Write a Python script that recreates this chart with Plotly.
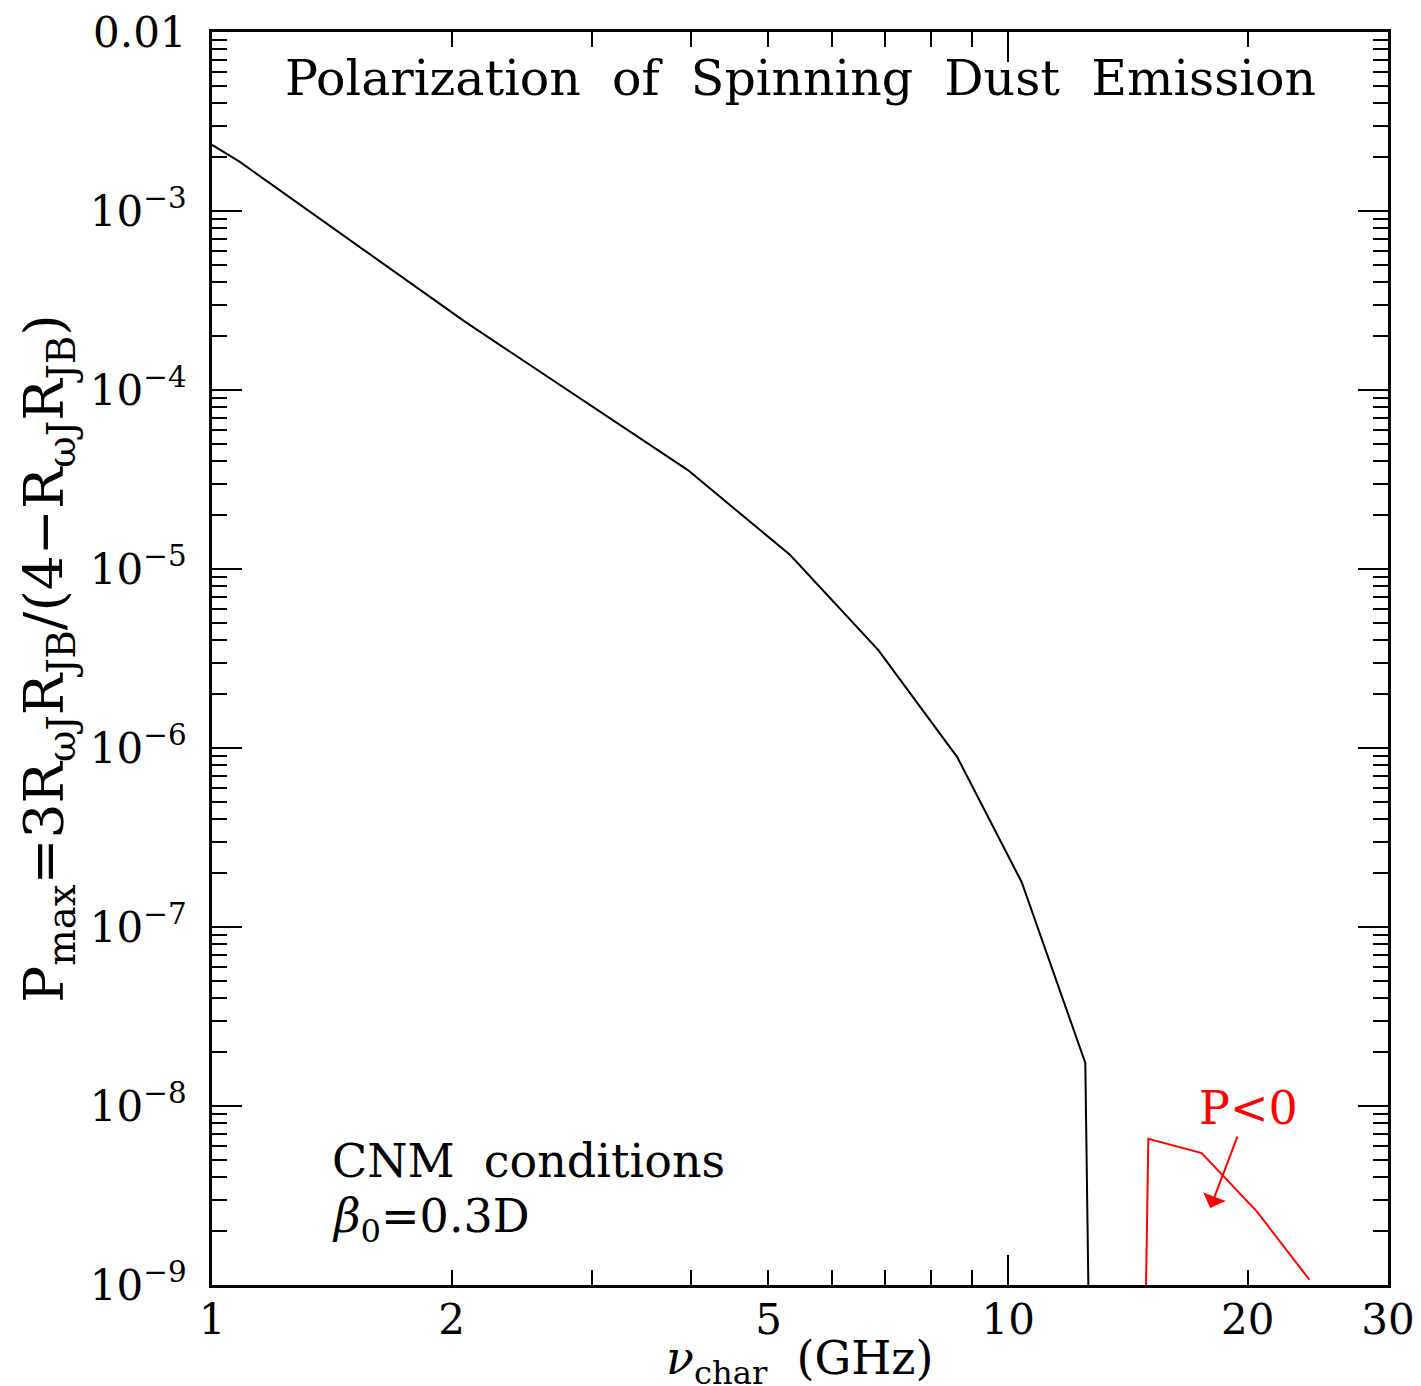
import plotly.graph_objects as go

# black curve: P_max vs characteristic frequency
nu_pos = [1.0, 1.084, 2.08, 3.96, 5.32, 6.87, 8.63, 10.4, 12.5, 12.7]
p_pos = [2.34e-3, 1.88e-3, 2.4e-4, 3.57e-5, 1.2e-5, 3.52e-6, 8.9e-7, 1.78e-7, 1.74e-8, 1e-10]

# red curve: region where P < 0 (plotted as |P|)
nu_neg = [14.78, 15.0, 17.5, 20.55, 23.9]
p_neg = [1e-10, 6.55e-9, 5.46e-9, 2.56e-9, 1.07e-9]

x_labels = [1, 2, 5, 10, 20, 30]
x_minor = [3, 4, 6, 7, 8, 9]
x_long = [1, 10]
y_major = [1e-9, 1e-8, 1e-7, 1e-6, 1e-5, 1e-4, 1e-3, 1e-2]
y_text = ["10<sup>−9</sup>", "10<sup>−8</sup>", "10<sup>−7</sup>", "10<sup>−6</sup>",
          "10<sup>−5</sup>", "10<sup>−4</sup>", "10<sup>−3</sup>", "0.01"]
y_minor = [m * 10.0 ** e for e in range(-9, -2) for m in range(2, 10)]

FONT = "DejaVu Serif"

fig = go.Figure()
fig.add_trace(go.Scatter(x=nu_pos, y=p_pos, mode="lines",
                         line=dict(color="black", width=2), showlegend=False))
fig.add_trace(go.Scatter(x=nu_neg, y=p_neg, mode="lines",
                         line=dict(color="red", width=2), showlegend=False))
# invisible trace to activate the overlay axis carrying the long x ticks
fig.add_trace(go.Scatter(x=[1, 30], y=[1e-9, 1e-9], xaxis="x2", mode="lines",
                         line=dict(width=0), hoverinfo="skip", showlegend=False))

fig.update_layout(
    width=1413, height=1378,
    margin=dict(l=204, r=33, t=24, b=101, autoexpand=False),
    plot_bgcolor="white", paper_bgcolor="white",
    font=dict(family=FONT, size=42, color="black"),
    xaxis=dict(
        type="log", range=[0, 1.4771], showgrid=False, zeroline=False, automargin=False,
        showline=True, linecolor="black", linewidth=3, mirror="ticks",
        ticks="inside", ticklen=15, tickwidth=2, tickcolor="black",
        tickvals=x_labels, ticktext=[str(v) for v in x_labels],
        tickfont=dict(size=42), ticklabelstandoff=-4, ticklabeloverflow="allow",
        minor=dict(tickvals=x_minor, ticks="inside", ticklen=15, tickwidth=2,
                   tickcolor="black", showgrid=False),
    ),
    xaxis2=dict(
        type="log", range=[0, 1.4771], overlaying="x", side="bottom", automargin=False,
        showgrid=False, zeroline=False, showline=False, mirror="ticks",
        ticks="inside", ticklen=30, tickwidth=2, tickcolor="black",
        tickvals=x_long, showticklabels=False,
    ),
    yaxis=dict(
        type="log", range=[-9, -2], showgrid=False, zeroline=False, automargin=False,
        showline=True, linecolor="black", linewidth=3, mirror="ticks",
        ticks="inside", ticklen=30, tickwidth=2, tickcolor="black",
        tickvals=y_major, ticktext=y_text, tickfont=dict(size=42), ticklabelstandoff=14,
        ticklabeloverflow="allow",
        minor=dict(tickvals=y_minor, ticks="inside", ticklen=15, tickwidth=2,
                   tickcolor="black", showgrid=False),
        title=dict(text="P<sub>max</sub>=3R<sub>ωJ</sub>R<sub>JB</sub>/(4−R<sub>ωJ</sub>R<sub>JB</sub>)",
                   font=dict(size=55), standoff=9),
    ),
    annotations=[
        dict(text="<i>ν</i><sub>char</sub>  (GHz)", xref="paper", yref="paper",
             x=0.5, y=0, xanchor="center", yanchor="middle", yshift=-76,
             showarrow=False, font=dict(size=46)),
        dict(text="Polarization  of  Spinning  Dust  Emission", xref="paper", yref="paper",
             x=0.5, y=0.963, xanchor="center", yanchor="middle", showarrow=False,
             font=dict(size=49)),
        dict(text="CNM  conditions", xref="paper", yref="paper", x=0.1, y=0.099,
             xanchor="left", yanchor="middle", showarrow=False, font=dict(size=46)),
        dict(text="<i>β</i><sub>0</sub>=0.3D", xref="paper", yref="paper", x=0.1, y=0.052,
             xanchor="left", yanchor="middle", showarrow=False, font=dict(size=46)),
        dict(text="P<0", x=1.2538, y=-8.57, xref="x", yref="y", ax=38, ay=-100,
             showarrow=True, arrowhead=1, arrowsize=2, arrowwidth=2, arrowcolor="red",
             font=dict(size=46, color="red")),
    ],
)

fig.write_html("out.html")
